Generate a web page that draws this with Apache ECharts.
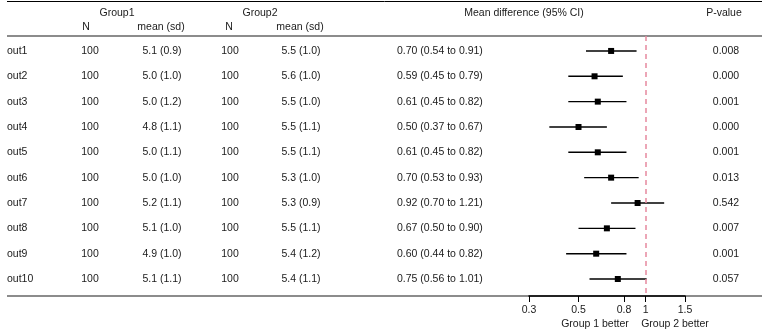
<!DOCTYPE html>
<html>
<head>
<meta charset="utf-8">
<script src="https://cdn.jsdelivr.net/npm/echarts@6/dist/echarts.min.js"></script>
<style>html,body{margin:0;padding:0;background:#fff}#c{width:768px;height:336px}</style>
</head>
<body>
<div id="c"></div>
<script>
// ---- data ----
const outcomes = ['out1','out2','out3','out4','out5','out6','out7','out8','out9','out10'];
const g1N    = [100,100,100,100,100,100,100,100,100,100];
const g1Mean = [5.1,5.0,5.0,4.8,5.0,5.0,5.2,5.1,4.9,5.1];
const g1Sd   = [0.9,1.0,1.2,1.1,1.1,1.0,1.1,1.0,1.0,1.1];
const g2N    = [100,100,100,100,100,100,100,100,100,100];
const g2Mean = [5.5,5.6,5.5,5.5,5.5,5.3,5.3,5.5,5.4,5.4];
const g2Sd   = [1.0,1.0,1.0,1.1,1.1,1.0,0.9,1.1,1.2,1.1];
const estimate = [0.70,0.59,0.61,0.50,0.61,0.70,0.92,0.67,0.60,0.75];
const lower    = [0.54,0.45,0.45,0.37,0.45,0.53,0.70,0.50,0.44,0.56];
const upper    = [0.91,0.79,0.82,0.67,0.82,0.93,1.21,0.90,0.82,1.01];
const pValues  = [0.008,0.000,0.001,0.000,0.001,0.013,0.542,0.007,0.001,0.057];
const xTicks   = [0.3,0.5,0.8,1,1.5];
const xRange   = [0.3,1.5];
const refValue = 1;

// ---- layout ----
const FONT = '10.5px "Liberation Sans", Arial, sans-serif';
const TXT = '#1a1a1a';
const gridTop = 36, gridH = 260;
const yMin = -0.59, yMax = 9.67;
const cols = [
  {x:7,   align:'left',   get:i=>outcomes[i]},
  {x:90,  align:'center', get:i=>String(g1N[i])},
  {x:162, align:'center', get:i=>g1Mean[i].toFixed(1)+' ('+g1Sd[i].toFixed(1)+')'},
  {x:230, align:'center', get:i=>String(g2N[i])},
  {x:301, align:'center', get:i=>g2Mean[i].toFixed(1)+' ('+g2Sd[i].toFixed(1)+')'},
  {x:397, align:'left',   get:i=>estimate[i].toFixed(2)+' ('+lower[i].toFixed(2)+' to '+upper[i].toFixed(2)+')'},
  {x:726, align:'center', get:i=>pValues[i].toFixed(3)}
];

const textSeries = cols.map(c => ({
  type:'custom', xAxisIndex:0, yAxisIndex:0, silent:true,
  data: outcomes.map((_,i)=>[c.x, i, c.get(i)]),
  encode:{x:0, y:1},
  renderItem:(params, api)=>{
    const p = api.coord([api.value(0), api.value(1)]);
    const idx = params.dataIndex;
    return {type:'text', x:p[0], y:p[1], style:{text:c.get(idx), textAlign:c.align, textVerticalAlign:'middle', font:FONT, fill:TXT}};
  }
}));

const forestData = outcomes.map((_,i)=>[Math.log(estimate[i]), Math.log(lower[i]), Math.log(upper[i]), i]);

const forestSeries = {
  type:'custom', xAxisIndex:1, yAxisIndex:1, silent:true, clip:false,
  data: forestData,
  encode:{x:[0,1,2], y:3},
  renderItem:(params, api)=>{
    const y = api.value(3);
    const a = api.coord([api.value(1), y]);
    const b = api.coord([api.value(2), y]);
    const c = api.coord([api.value(0), y]);
    return {type:'group', children:[
      {type:'line', shape:{x1:a[0], y1:a[1], x2:b[0], y2:b[1]}, style:{stroke:'#000', lineWidth:1.4}},
      {type:'rect', shape:{x:c[0]-3, y:c[1]-3, width:6, height:6}, style:{fill:'#000'}}
    ]};
  },
  markLine:{
    silent:true, symbol:'none', animation:false,
    label:{show:false},
    lineStyle:{color:'#e6899f', type:[5,4], width:1.5},
    data:[{xAxis:Math.log(refValue)}]
  }
};

function hdr(text, x, y, align){
  return {type:'text', x:x, y:y, style:{text:text, textAlign:align||'center', textVerticalAlign:'middle', font:FONT, fill:TXT}};
}
function rule(y, color, w){
  return {type:'line', shape:{x1:7, y1:y, x2:762, y2:y}, style:{stroke:color, lineWidth:w}, z:-1};
}

const chart = echarts.init(document.getElementById('c'), null, {renderer:'canvas'});
chart.setOption({
  animation:false,
  backgroundColor:'#fff',
  grid:[
    {left:0, width:768, top:gridTop, height:gridH},
    {left:529, width:156, top:gridTop, height:gridH}
  ],
  xAxis:[
    {gridIndex:0, type:'value', min:0, max:768, show:false},
    {gridIndex:1, type:'value', position:'bottom', min:Math.log(xRange[0]), max:Math.log(xRange[1]),
     axisLine:{show:true, onZero:false, lineStyle:{color:'#000', width:1.5}},
     axisTick:{show:true, length:6, lineStyle:{color:'#000', width:1}, customValues:xTicks.map(Math.log)},
     axisLabel:{show:true, margin:9, color:TXT, fontSize:10.5, fontFamily:'"Liberation Sans", Arial, sans-serif',
       customValues:xTicks.map(Math.log),
       formatter:v=>String(+Math.exp(v).toFixed(1))},
     splitLine:{show:false}}
  ],
  yAxis:[
    {gridIndex:0, type:'value', inverse:true, min:yMin, max:yMax, show:false},
    {gridIndex:1, type:'value', inverse:true, min:yMin, max:yMax, show:false}
  ],
  series:[...textSeries, forestSeries],
  graphic:[
    rule(1.5, '#000', 1),
    rule(36, '#666', 1.5),
    rule(296, '#666', 1.5),
    hdr('Group1', 117, 13),
    hdr('Group2', 260, 13),
    hdr('N', 86, 27),
    hdr('mean (sd)', 161, 27),
    hdr('N', 229, 27),
    hdr('mean (sd)', 300, 27),
    hdr('Mean difference (95% CI)', 524, 13),
    hdr('P-value', 724, 13),
    hdr('Group 1 better', 595, 324),
    hdr('Group 2 better', 675, 324)
  ]
});
</script>
</body>
</html>
